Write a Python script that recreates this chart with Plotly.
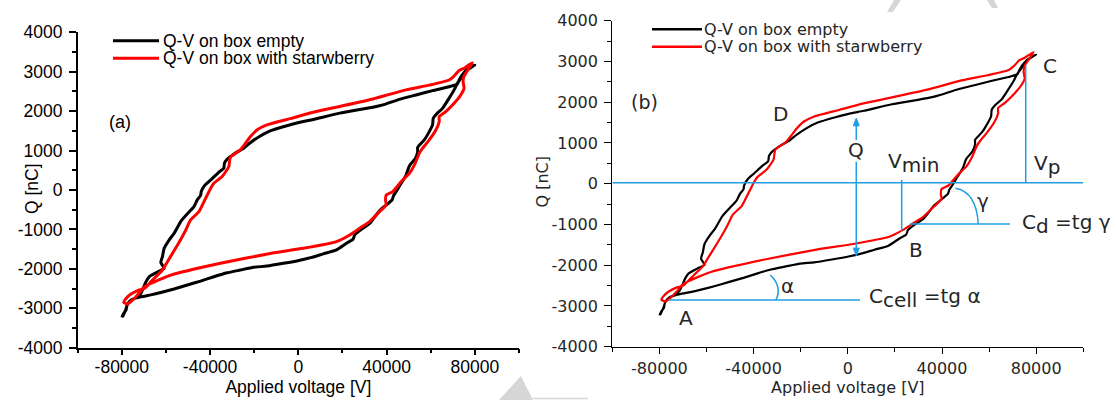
import plotly.graph_objects as go

# ---------------- data ----------------
# Q-V loop, box empty (black): A -> lower branch -> B -> right branch -> C -> upper branch -> D -> left branch -> A
empty_v = [-80000, -79200, -78100, -77650, -76600, -75100,
           -71350, -66840, -62330, -56330, -50320, -44310, -38300, -32290, -26290, -20280, -14270,
           -6760, 750, 6010, 11270, 17270, 21780, 24780, 25530, 27790, 32290, 36800, 42510,
           43110, 45060, 46560, 48820, 50320, 53020, 54070, 54070, 57080, 59330, 60830, 61130,
           62630, 65340, 68340, 70590, 72100, 74350, 75850, 79910,
           75100, 72850, 72100, 68340, 60830, 53320, 45810, 38300, 33800, 18780, 6760, 750,
           -5260, -12770, -17270, -21780, -24780, -29290, -32290, -33490, -33800, -36050, -39800,
           -42510, -44010, -44310, -45810, -47310, -49570, -53320, -56330, -58580, -60830, -61580,
           -62330, -60830, -63840, -67590, -69090, -70140, -71350, -73150, -75550, -77350, -78400, -79610]
empty_q = [-3230, -3130, -3050, -2920, -2830, -2770,
           -2710, -2660, -2600, -2510, -2410, -2310, -2200, -2100, -2030, -1960, -1930,
           -1860, -1780, -1710, -1620, -1520, -1350, -1250, -1140, -1030, -850, -525, -250,
           -150, 25, 170, 380, 610, 800, 970, 1080, 1270, 1480, 1650, 1820,
           1930, 2070, 2330, 2540, 2710, 2880, 3030, 3170,
           2980, 2790, 2690, 2620, 2520, 2410, 2300, 2160, 2100, 1950, 1790, 1720,
           1630, 1500, 1370, 1200, 1060, 910, 780, 680, 550, 450, 250,
           110, -40, -140, -250, -420, -560, -800, -1100, -1270, -1480, -1690,
           -1840, -1990, -2080, -2200, -2330, -2470, -2620, -2720, -2790, -2890, -3060, -3210]

# Q-V loop, box with strawberry (red)
straw_v = [-68340, -57830, -35300, -12770, 2250, 17270, 23280, 27790, 32290, 36800, 39800, 39500, 39800, 42810,
           46560, 50320, 52570, 54820, 56330, 59330, 62330, 63840, 63840, 66840, 70590, 73600, 75100, 74650,
           75100, 77350, 78860,
           75100, 72850, 70590, 68340, 59330, 48820, 33800, 18780, 6760, -3760, -14270, -18780, -21780,
           -24030, -26290, -30790,
           -31540, -34550, -38300, -39800, -41310, -42810, -45060, -48820, -51070, -52570, -54820, -57080,
           -59330, -61580, -64590, -66840, -69840, -72850, -75850, -78100, -79150, -77350, -75100, -72850,
           -70590, -68340]
straw_q = [-2410, -2160, -1860, -1610, -1480, -1310, -1140, -970, -800, -550, -380, -250, -130, -40,
           210, 420, 630, 930, 1060, 1270, 1520, 1730, 1860, 1990, 2200, 2410, 2580, 2750,
           2890, 3090, 3230,
           3090, 3030, 2890, 2790, 2660, 2540, 2310, 2120, 1970, 1810, 1650, 1520, 1350,
           1180, 1020, 830,
           590, 340, 170, 40, -130, -300, -550, -760, -1020, -1180, -1400, -1610,
           -1820, -2030, -2200, -2330, -2500, -2550, -2640, -2750, -2850, -2890, -2790, -2660,
           -2500, -2410]

series_names = ["Q-V on box empty", "Q-V on box with starwberry"]
series_colors = ["#000000", "#ff0000"]

x_tick_vals = [-80000, -40000, 0, 40000, 80000]
x_tick_text = ["-80000", "-40000", "0", "40000", "80000"]
y_tick_vals = [-4000, -3000, -2000, -1000, 0, 1000, 2000, 3000, 4000]
y_tick_text = ["-4000", "-3000", "-2000", "-1000", "0", "1000", "2000", "3000", "4000"]

x_title = "Applied voltage [V]"
y_title = "Q [nC]"

W, H = 1116, 400
BLUE = "#1f9fe2"
FA = "Liberation Sans, Arial, sans-serif"
FB = "DejaVu Sans, sans-serif"
TXT_B = "#262626"

fig = go.Figure()

series = [(empty_v, empty_q), (straw_v, straw_q)]
for xa, ya, lw in (("x", "y", 3), ("x2", "y2", 2.2)):
    for (vv, qq), nm, col in zip(series, series_names, series_colors):
        fig.add_trace(go.Scatter(x=vv, y=qq, mode="lines", name=nm, xaxis=xa, yaxis=ya,
                                 line=dict(color=col, width=lw, shape="spline", smoothing=0.5),
                                 showlegend=False, hoverinfo="skip"))


def xaxis_def(dom, anchor, font, lw, lab_standoff, standoff):
    return dict(domain=dom, anchor=anchor, range=[-100000, 100000], tickmode="array",
                tickvals=x_tick_vals, ticktext=x_tick_text, ticks="outside", ticklen=6,
                tickwidth=lw, tickcolor="black", showline=True, linecolor="black", linewidth=lw,
                showgrid=False, zeroline=False, automargin=False, ticklabelstandoff=lab_standoff,
                minor=dict(tickmode="linear", tick0=-100000, dtick=20000, ticks="outside",
                           ticklen=4, tickwidth=lw, tickcolor="black", showgrid=False),
                tickfont=font, title=dict(text=x_title, font=font, standoff=standoff))


def yaxis_def(dom, anchor, font, lw):
    return dict(domain=dom, anchor=anchor, range=[-4000, 4000], tickmode="array",
                tickvals=y_tick_vals, ticktext=y_tick_text, ticks="outside", ticklen=7,
                tickwidth=lw, tickcolor="black", showline=True, linecolor="black", linewidth=lw,
                showgrid=False, zeroline=False, automargin=False, ticklabelstandoff=3,
                minor=dict(tickmode="linear", tick0=-4000, dtick=500, ticks="outside",
                           ticklen=4, tickwidth=lw, tickcolor="black", showgrid=False),
                tickfont=font)


font_a = dict(family=FA, size=17.5, color="black")
font_b = dict(family=FB, size=16, color=TXT_B)

dom_xa = [77.7 / W, 519 / W]
dom_ya = [1 - 347.7 / H, 1 - 32.3 / H]
dom_xb = [612.3 / W, 1083.3 / W]
dom_yb = [1 - 346.7 / H, 1 - 20.7 / H]

fig.update_layout(
    width=W, height=H, margin=dict(l=0, r=0, t=0, b=0, autoexpand=False),
    paper_bgcolor="white", plot_bgcolor="white", showlegend=False,
    xaxis=xaxis_def(dom_xa, "y", font_a, 1.5, -3, 1),
    yaxis=yaxis_def(dom_ya, "x", font_a, 1.5),
    xaxis2=xaxis_def(dom_xb, "y2", font_b, 1.3, 1, 4),
    yaxis2=yaxis_def(dom_yb, "x2", font_b, 1.3),
)

shapes = []
annotations = []

# ---------- y axis titles (rotated text placed like the reference) ----------
annotations.append(dict(xref="paper", yref="paper", x=20 / W, y=1 - 189 / H, text=y_title,
                        textangle=-90, showarrow=False, font=font_a))
annotations.append(dict(xref="paper", yref="paper", x=541.5 / W, y=1 - 182 / H, text=y_title,
                        textangle=-90, showarrow=False, font=font_b))

# ---------- manual legends ----------
def legend(x0, x1, ys, tx, lw, font):
    for y, nm, col in zip(ys, series_names, series_colors):
        shapes.append(dict(type="line", xref="paper", yref="paper", x0=x0 / W, x1=x1 / W,
                           y0=1 - y / H, y1=1 - y / H, line=dict(color=col, width=lw)))
        annotations.append(dict(xref="paper", yref="paper", x=tx / W, y=1 - y / H, text=nm,
                                showarrow=False, xanchor="left", yanchor="middle", font=font,
                                borderpad=0))

legend(113, 159, [40.7, 58.3], 162, 3, dict(family=FA, size=17.5, color="black"))
legend(652, 702, [29.3, 46.7], 703, 2.5, dict(family=FB, size=16, color=TXT_B))

# ---------- panel labels ----------
annotations.append(dict(xref="x", yref="y", x=-80900, y=1726, text="(a)", showarrow=False,
                        font=dict(family=FA, size=18, color="black")))
annotations.append(dict(xref="x2", yref="y2", x=-86300, y=2012, text="(b)", showarrow=False,
                        font=dict(family=FB, size=19, color=TXT_B)))

# ---------- annotations of panel (b) ----------
lab_font = dict(family=FB, size=20, color=TXT_B)
point_labels = [("D", -28700, 1710), ("C", 85700, 2893), ("B", 28900, -1627), ("A", -68900, -3303),
                ("Q", 3500, 827), ("\u03b1", -25500, -2506), ("\u03b3", 57300, -417)]
for t, xv, yv in point_labels:
    annotations.append(dict(xref="x2", yref="y2", x=xv, y=yv, text=t, showarrow=False, font=lab_font))

SUB = "<sub><span style='font-size:20px'>%s</span></sub>"
formula_labels = [("V" + SUB % "min", 16100, 508), ("V" + SUB % "p", 78200, 470),
                  ("C" + SUB % "cell" + " =tg \u03b1", 8300, -2805),
                  ("C" + SUB % "d" + " =tg \u03b3", 73300, -990)]
for t, xv, yv in formula_labels:
    annotations.append(dict(xref="x2", yref="y2", x=xv, y=yv, text=t, showarrow=False,
                            xanchor="left", yanchor="middle", font=lab_font))

# blue construction lines of panel (b): (x0, y0, x1, y1)
blue_lines = [(-100000, 25, 100000, 25), (75550, 25, 75550, 2913), (22880, 91, 22880, -1178),
              (-76000, -2854, 5200, -2854), (26400, -989, 68800, -989),
              (3600, 1450, 3600, 1070), (3600, 540, 3600, -1610)]
for x0, y0, x1, y1 in blue_lines:
    shapes.append(dict(type="line", xref="x2", yref="y2", x0=x0, y0=y0, x1=x1, y1=y1,
                       line=dict(color=BLUE, width=1.5)))
# angle arcs
shapes.append(dict(type="path", xref="x2", yref="y2", path="M -30500,-2854 Q -27750,-2523 -32900,-2240",
                   line=dict(color=BLUE, width=1.5)))
shapes.append(dict(type="path", xref="x2", yref="y2", path="M 45700,-113 Q 54600,-200 55400,-989",
                   line=dict(color=BLUE, width=1.5)))
# arrow heads of the Q double arrow
shapes.append(dict(type="path", xref="x2", yref="y2", path="M 3600,1610 L 2330,1420 L 4870,1420 Z",
                   fillcolor=BLUE, line=dict(color=BLUE, width=1)))
shapes.append(dict(type="path", xref="x2", yref="y2", path="M 3600,-1770 L 2330,-1580 L 4870,-1580 Z",
                   fillcolor=BLUE, line=dict(color=BLUE, width=1)))

# ---------- faint watermark strokes ----------
def ppath(pts):
    return "M " + " L ".join("%.4f,%.4f" % (x / W, 1 - y / H) for x, y in pts) + " Z"

wm = "#d6d6d6"
shapes.append(dict(type="path", xref="paper", yref="paper", path=ppath([(499, 400), (521, 376), (533, 400)]),
                   fillcolor=wm, line=dict(width=0), layer="below"))
shapes.append(dict(type="line", xref="paper", yref="paper", x0=533 / W, x1=588 / W, y0=1 - 398.5 / H,
                   y1=1 - 398.5 / H, line=dict(color=wm, width=1.5), layer="below"))
shapes.append(dict(type="path", xref="paper", yref="paper", path=ppath([(894, 0), (901, 0), (893, 12), (887, 12)]),
                   fillcolor=wm, line=dict(width=0), layer="below"))
shapes.append(dict(type="path", xref="paper", yref="paper", path=ppath([(987, 0), (994, 0), (998, 8), (992, 8)]),
                   fillcolor=wm, line=dict(width=0), layer="below"))

fig.update_layout(shapes=shapes, annotations=annotations)
fig.write_html("out.html", config={"displayModeBar": False},
               post_script="document.body.style.margin='0';document.body.style.overflow='hidden';")
